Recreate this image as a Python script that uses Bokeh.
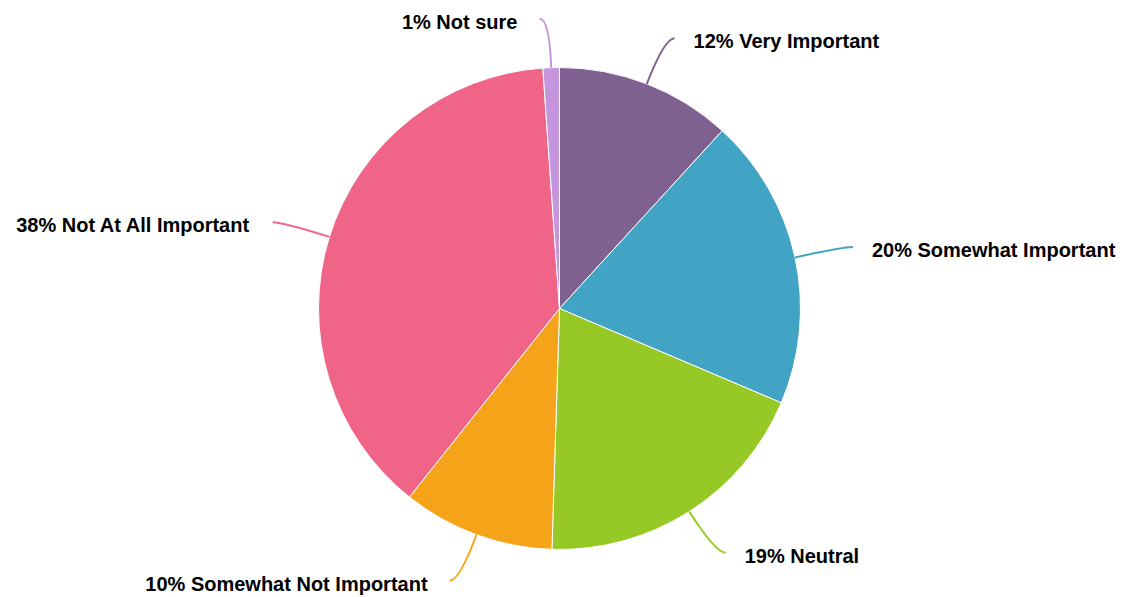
import math
from bokeh.plotting import figure
from bokeh.models import Range1d, ColumnDataSource
from bokeh.core.properties import value
from bokeh.embed import file_html
from bokeh.resources import INLINE

# ---- data ----
categories = ["Very Important", "Somewhat Important", "Neutral",
              "Somewhat Not Important", "Not At All Important", "Not sure"]
shares = [11.8, 19.6, 19.1, 10.2, 38.2, 1.1]
pct_labels = ["12%", "20%", "19%", "10%", "38%", "1%"]
colors = ["#7e6190", "#41a4c4", "#97c926", "#f5a41a", "#f06587", "#c595de"]

# ---- layout ----
W, H = 1126, 597
CX, CY = 559, H - 308
R = 241
R_TICK = 290
HOOK = 10

total = sum(shares)
starts, ends, mids = [], [], []
c = 0.0
for s in shares:
    a0 = c / total
    c += s
    a1 = c / total
    starts.append(math.pi / 2 - 2 * math.pi * a0)
    ends.append(math.pi / 2 - 2 * math.pi * a1)
    mids.append(math.pi / 2 - 2 * math.pi * (a0 + a1) / 2)

x0 = [CX + R * math.cos(m) for m in mids]
y0 = [CY + R * math.sin(m) for m in mids]
cx = [CX + R_TICK * math.cos(m) for m in mids]
cy = [CY + R_TICK * math.sin(m) for m in mids]
side = [1 if math.cos(m) >= 0 else -1 for m in mids]
x1 = [a + HOOK * s for a, s in zip(cx, side)]
y1 = cy
tx = [a + (19 if s > 0 else -22) for a, s in zip(x1, side)]
ty = [b - 3 for b in y1]
align = ["left" if s > 0 else "right" for s in side]
texts = [f"{p} {c}" for p, c in zip(pct_labels, categories)]

src = ColumnDataSource(dict(start=starts, end=ends, color=colors,
                            x0=x0, y0=y0, cx=cx, cy=cy, x1=x1, y1=y1,
                            tx=tx, ty=ty, align=align, text=texts))

p = figure(width=W, height=H, x_range=Range1d(0, W), y_range=Range1d(0, H),
           output_backend="svg", toolbar_location=None, min_border=0)
p.axis.visible = False
p.grid.visible = False
p.outline_line_color = None
p.background_fill_color = "white"
p.border_fill_color = "white"

p.wedge(x=CX, y=CY, radius=R, start_angle="start", end_angle="end",
        direction="clock", fill_color="color", line_color="white",
        line_width=1, source=src)
p.quadratic(x0="x0", y0="y0", x1="x1", y1="y1", cx="cx", cy="cy",
            line_color="color", line_width=2, source=src)
p.text(x="tx", y="ty", text="text", text_align="align", text_baseline="middle",
       text_font=value("Liberation Sans"), text_font_style="bold",
       text_font_size="20px", text_color="#000000", source=src)

open("out.html", "w").write(file_html(p, INLINE))
